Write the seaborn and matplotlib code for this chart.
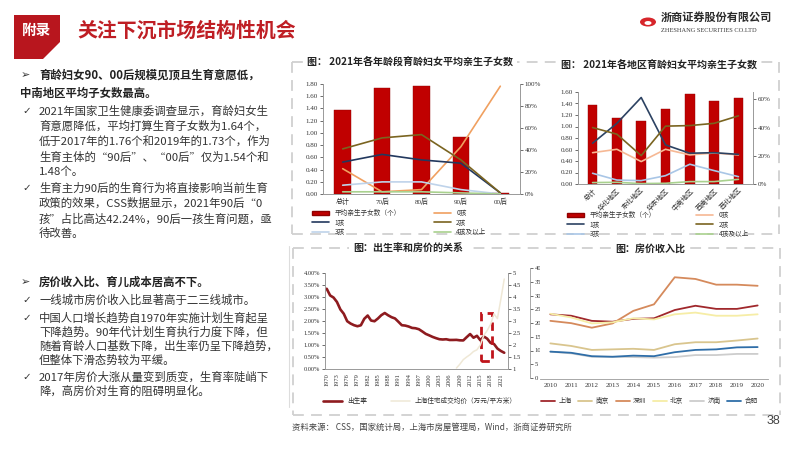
import numpy as np
import pandas as pd
import matplotlib
matplotlib.use("Agg")
import matplotlib.pyplot as plt
import seaborn as sns
from matplotlib.lines import Line2D
from matplotlib.patches import Polygon, Circle, Rectangle, Patch
from matplotlib.ticker import FuncFormatter

# ---------------- data ----------------
age_groups = ["总计", "70后", "80后", "90后", "00后"]
age_avg_children = [1.37, 1.74, 1.76, 0.94, 0.02]
age_kid0 = [0.23, 0.02, 0.04, 0.43, 0.98]
age_kid1 = [0.29, 0.36, 0.31, 0.28, 0.01]
age_kid2 = [0.41, 0.51, 0.54, 0.31, 0.01]
age_kid3 = [0.08, 0.11, 0.11, 0.04, 0.00]
age_kid4 = [0.02, 0.02, 0.02, 0.01, 0.00]

regions = ["总计", "华北地区", "东北地区", "华东地区", "中南地区", "西南地区", "西北地区"]
region_avg_children = [1.37, 1.15, 1.10, 1.30, 1.56, 1.45, 1.50]
region_kid0 = [0.222, 0.246, 0.159, 0.246, 0.206, 0.220, 0.206]
region_kid1 = [0.289, 0.43, 0.613, 0.277, 0.218, 0.222, 0.210]
region_kid2 = [0.40, 0.353, 0.201, 0.41, 0.414, 0.43, 0.483]
region_kid3 = [0.076, 0.028, 0.024, 0.059, 0.14, 0.095, 0.052]
region_kid4 = [0.010, 0.012, 0.003, 0.005, 0.017, 0.017, 0.033]

birth_years = list(range(1970, 2023))
birth_rate = [3.343, 3.065, 2.977, 2.793, 2.482, 2.301, 1.991, 1.893, 1.825, 1.782,
              1.821, 2.091, 2.228, 2.019, 1.990, 2.104, 2.243, 2.333, 2.237, 2.158,
              2.106, 1.968, 1.824, 1.809, 1.770, 1.712, 1.698, 1.657, 1.564, 1.464,
              1.403, 1.338, 1.286, 1.241, 1.229, 1.240, 1.209, 1.210, 1.214, 1.195,
              1.190, 1.327, 1.457, 1.303, 1.383, 1.199, 1.357, 1.264, 1.086, 1.041,
              0.852, 0.752, 0.677]
price_years = list(range(2008, 2023))
sh_price = [1.04, 1.2, 1.39, 1.5, 1.6, 1.73, 1.8, 2.0, 2.4, 2.6, 2.86, 3.3, 3.1, 3.9, 4.75]

ratio_years = list(range(2010, 2021))
ratio_cities = ["上海", "南京", "深圳", "北京", "济南", "合肥"]
ratio_shanghai = [22.7, 22.2, 20.4, 20.1, 21.1, 21.3, 24.2, 25.7, 24.6, 24.6, 25.8]
ratio_nanjing = [12.5, 11.6, 10.2, 10.4, 10.6, 10.2, 12.2, 12.9, 12.9, 13.5, 14.2]
ratio_shenzhen = [20.4, 19.6, 18.0, 19.5, 23.9, 26.2, 35.7, 35.1, 33.1, 33.1, 32.7]
ratio_beijing = [22.9, 21.6, 19.5, 19.9, 21.3, 20.9, 22.7, 23.3, 22.2, 22.2, 22.7]
ratio_jinan = [9.6, 9.0, 7.8, 7.8, 7.7, 7.5, 7.7, 8.4, 8.4, 8.8, 8.8]
ratio_hefei = [9.6, 9.2, 8.0, 7.8, 8.2, 8.0, 9.4, 10.2, 10.4, 11.1, 11.2]

kid_labels = ["0孩", "1孩", "2孩", "3孩", "4孩及以上"]
kid_colors = ["#F0A060", "#22385E", "#7A6420", "#BFD3EA", "#A9D18E"]
kid_colors_region = ["#F6B894", "#2C4262", "#7A6420", "#A9C6E6", "#A9D18E"]
city_colors = ["#A0282C", "#D9C58E", "#D58A5C", "#F6EDA6", "#CDCDCD", "#2F6EA8"]

# ---------------- helpers ----------------
W, H = 799, 450
CJK = ["Noto Sans CJK SC", "DejaVu Sans"]
SERIF = ["Liberation Serif", "Noto Sans CJK SC"]
TXT = "#333333"
RED = "#B8161E"


def fx(x):
    return x / W


def fy(y):
    return 1 - y / H


def box(l, t, r, b):
    return [l / W, 1 - b / H, (r - l) / W, (b - t) / H]


sns.set_theme(style="white")
plt.rcParams["font.family"] = SERIF
plt.rcParams["axes.unicode_minus"] = False

fig = plt.figure(figsize=(7.99, 4.5), dpi=100)
fig.patch.set_facecolor("white")


def dash(x0, y0, x1, y1):
    fig.add_artist(Line2D([fx(x0), fx(x1)], [fy(y0), fy(y1)], transform=fig.transFigure,
                          color="#D0D0D0", lw=1.3, ls=(0, (6, 4)), zorder=1))


def style_axis(ax, fs=5):
    for s in ax.spines.values():
        s.set_color("#9A9A9A")
        s.set_linewidth(0.6)
    ax.tick_params(axis="both", labelsize=fs, colors=TXT, length=2, width=0.5, pad=1.5,
                   direction="out")
    ax.grid(False)
    ax.set_xlabel("")
    ax.set_ylabel("")


# ---------------- header ----------------
fig.add_artist(Polygon([[fx(14), fy(15)], [fx(60), fy(15)], [fx(60), fy(42)], [fx(43), fy(59)],
                        [fx(14), fy(59)]], closed=True, transform=fig.transFigure,
                       facecolor=RED, edgecolor="none"))
fig.text(fx(37), fy(30), "附录", color="white", fontsize=10.5, fontweight="bold",
         family=CJK, ha="center", va="center")
fig.text(fx(77), fy(30), "关注下沉市场结构性机会", color="#BF1E24", fontsize=14.3,
         fontweight="bold", family=CJK, ha="left", va="center")

fig.add_artist(Circle((fx(648), fy(22)), 8 / W, transform=fig.transFigure,
                      facecolor="#D7262B", edgecolor="none"))
fig.add_artist(Circle((fx(648), fy(23)), 3.5 / W, transform=fig.transFigure,
                      facecolor="white", edgecolor="none"))
fig.text(fx(661), fy(17), "浙商证券股份有限公司", color="#2A2A2A", fontsize=8,
         fontweight="bold", family=CJK, ha="left", va="center")
fig.text(fx(661), fy(31), "ZHESHANG SECURITIES CO.LTD", color="#3A3A3A", fontsize=4.6,
         family=["Liberation Serif"], ha="left", va="center")

# ---------------- left text ----------------
FS = 8.2
fig.text(fx(21), fy(75), "➢", fontsize=8, color=TXT, family=CJK, ha="left", va="center")
fig.text(fx(39), fy(75), "育龄妇女90、00后规模见顶且生育意愿低，", fontsize=FS,
         fontweight="bold", color="#222222", family=CJK, ha="left", va="center")
fig.text(fx(20), fy(93), "中南地区平均子女数最高。", fontsize=FS, fontweight="bold",
         color="#222222", family=CJK, ha="left", va="center")
block1 = ["2021年国家卫生健康委调查显示，育龄妇女生",
          "育意愿降低，平均打算生育子女数为1.64个，",
          "低于2017年的1.76个和2019年的1.73个，作为",
          "生育主体的“90后”、“00后”仅为1.54个和",
          "1.48个。"]
block2 = ["生育主力90后的生育行为将直接影响当前生育",
          "政策的效果，CSS数据显示，2021年90后“0",
          "孩”占比高达42.24%，90后一孩生育问题，亟",
          "待改善。"]
for i, line in enumerate(block1):
    fig.text(fx(39), fy(111 + i * 15.3), line, fontsize=FS, color=TXT, family=CJK,
             ha="left", va="center")
for i, line in enumerate(block2):
    fig.text(fx(39), fy(188 + i * 15.3), line, fontsize=FS, color=TXT, family=CJK,
             ha="left", va="center")
for yy in (111, 188):
    fig.text(fx(22), fy(yy), "✓", fontsize=7.5, color=TXT, family=["DejaVu Sans"],
             ha="left", va="center")

fig.text(fx(21), fy(282), "➢", fontsize=8, color=TXT, family=CJK, ha="left", va="center")
fig.text(fx(39), fy(282), "房价收入比、育儿成本居高不下。", fontsize=FS, fontweight="bold",
         color="#222222", family=CJK, ha="left", va="center")
block3 = [(300, "一线城市房价收入比显著高于二三线城市。", True),
          (318, "中国人口增长趋势自1970年实施计划生育起呈", True),
          (332, "下降趋势。90年代计划生育执行力度下降，但", False),
          (346, "随着育龄人口基数下降，出生率仍呈下降趋势，", False),
          (360, "但整体下滑态势较为平缓。", False),
          (377, "2017年房价大涨从量变到质变，生育率陡峭下", True),
          (391, "降，高房价对生育的阻碍明显化。", False)]
for yy, line, chk in block3:
    fig.text(fx(39), fy(yy), line, fontsize=FS, color=TXT, family=CJK, ha="left", va="center")
    if chk:
        fig.text(fx(22), fy(yy), "✓", fontsize=7.5, color=TXT, family=["DejaVu Sans"],
                 ha="left", va="center")

fig.add_artist(Line2D([fx(288.5), fx(288.5)], [fy(246), fy(407)], transform=fig.transFigure,
                      color="#DDDDDD", lw=0.8))

# ---------------- dashed frames ----------------
dash(292, 62, 779, 62)
dash(292, 62, 292, 234)
dash(779, 62, 779, 234)
dash(292, 234, 779, 234)
dash(293, 248, 780, 248)
dash(293, 248, 293, 415)
dash(780, 248, 780, 415)
dash(293, 415, 780, 415)

title_kw = dict(fontsize=7.2, fontweight="bold", color="#222222", family=CJK, ha="center",
                va="center", bbox=dict(facecolor="white", edgecolor="none", pad=3))
fig.text(fx(410), fy(62), "图： 2021年各年龄段育龄妇女平均亲生子女数", **title_kw)
fig.text(fx(659), fy(65), "图： 2021年各地区育龄妇女平均亲生子女数", **title_kw)
fig.text(fx(408), fy(249), "图：出生率和房价的关系", **title_kw)
fig.text(fx(650), fy(249), "图：房价收入比", **title_kw)

# ---------------- chart 1: by age group ----------------
ax1 = fig.add_axes(box(323, 84, 520, 194))
sns.barplot(x=age_groups, y=age_avg_children, color="#C00000", saturation=1, width=0.42,
            edgecolor="#900000", linewidth=0.3, ax=ax1)
ax1.set_xlim(-0.5, 4.5)
ax1.set_ylim(0, 1.8)
ax1.set_yticks(np.arange(0, 1.81, 0.2))
ax1.yaxis.set_major_formatter(FuncFormatter(lambda v, p: f"{v:.2f}"))
style_axis(ax1)
ax1.tick_params(axis="x", length=0, pad=3)
ax1b = ax1.twinx()
for vals, col in zip([age_kid0, age_kid1, age_kid2, age_kid3, age_kid4], kid_colors):
    sns.lineplot(x=np.arange(len(age_groups)), y=vals, color=col, lw=1.2, ax=ax1b)
ax1b.set_ylim(0, 1.0)
ax1b.set_yticks(np.arange(0, 1.01, 0.2))
ax1b.yaxis.set_major_formatter(FuncFormatter(lambda v, p: f"{v:.0%}"))
style_axis(ax1b)
ax1b.spines["top"].set_visible(False)
ax1.spines["top"].set_visible(False)

h1 = [Patch(facecolor="#C00000", edgecolor="#900000")] + \
     [Line2D([], [], color=c, lw=1.2) for c in kid_colors]
l1 = ["平均亲生子女数（个）"] + kid_labels
order = [0, 2, 4, 1, 3, 5]
fig.legend([h1[i] for i in order], [l1[i] for i in order], loc="upper left",
           bbox_to_anchor=(fx(312), fy(209)), ncol=2, frameon=False,
           prop={"family": CJK, "size": 4.8}, handlelength=2.6, handleheight=0.6,
           labelspacing=0.25, columnspacing=4.9, borderaxespad=0, borderpad=0,
           labelcolor=TXT)

# ---------------- chart 2: by region ----------------
ax2 = fig.add_axes(box(578, 92, 753, 184))
sns.barplot(x=regions, y=region_avg_children, color="#C00000", saturation=1, width=0.4,
            edgecolor="#900000", linewidth=0.3, ax=ax2)
ax2.set_xlim(-0.6, 6.6)
ax2.set_ylim(0, 1.6)
ax2.set_yticks(np.arange(0, 1.61, 0.2))
ax2.yaxis.set_major_formatter(FuncFormatter(lambda v, p: f"{v:.2f}"))
style_axis(ax2)
ax2.tick_params(axis="x", length=0, pad=2)
for lab in ax2.get_xticklabels():
    lab.set_rotation(45)
    lab.set_ha("right")
    lab.set_rotation_mode("anchor")
ax2b = ax2.twinx()
for vals, col in zip([region_kid0, region_kid1, region_kid2, region_kid3, region_kid4],
                     kid_colors_region):
    sns.lineplot(x=np.arange(len(regions)), y=vals, color=col, lw=1.2, ax=ax2b)
ax2b.set_ylim(0, 0.652)
ax2b.set_yticks(np.arange(0, 0.61, 0.2))
ax2b.yaxis.set_major_formatter(FuncFormatter(lambda v, p: f"{v:.0%}"))
style_axis(ax2b)
ax2.spines["top"].set_visible(False)
ax2b.spines["top"].set_visible(False)

h2 = [Patch(facecolor="#C00000", edgecolor="#900000")] + \
     [Line2D([], [], color=c, lw=1.2) for c in kid_colors_region]
fig.legend([h2[i] for i in order], [l1[i] for i in order], loc="upper left",
           bbox_to_anchor=(fx(567), fy(211)), ncol=2, frameon=False,
           prop={"family": CJK, "size": 4.8}, handlelength=2.6, handleheight=0.6,
           labelspacing=0.25, columnspacing=6.0, borderaxespad=0, borderpad=0,
           labelcolor=TXT)

# ---------------- chart 3: birth rate vs house price ----------------
ax3 = fig.add_axes(box(325, 273, 508, 369))
sns.lineplot(x=birth_years, y=birth_rate, color="#8E1B1F", lw=1.9, ax=ax3)
ax3.set_xlim(1969.5, 2023.1)
ax3.set_ylim(0, 4.0)
ax3.set_yticks(np.arange(0, 4.01, 0.5))
ax3.yaxis.set_major_formatter(FuncFormatter(lambda v, p: f"{v:.2f}%"))
ax3.set_xticks(list(range(1970, 2022, 3)))
style_axis(ax3, fs=4.6)
ax3.tick_params(axis="x", rotation=90, pad=1)
ax3.spines["top"].set_visible(False)
ax3.add_patch(Rectangle((2015.2, 0.33), 3.3, 2.0, fill=False, edgecolor="#C0141B", lw=2,
                        ls=(0, (3, 2)), clip_on=False, zorder=5))
ax3b = ax3.twinx()
sns.lineplot(x=price_years, y=sh_price, color="#EFE8D6", lw=1.1, ax=ax3b)
ax3b.set_ylim(1, 5)
ax3b.set_yticks(np.arange(1, 5.01, 0.5))
ax3b.yaxis.set_major_formatter(FuncFormatter(lambda v, p: f"{v:g}"))
style_axis(ax3b, fs=4.8)
ax3b.spines["top"].set_visible(False)

ax3c = fig.add_axes(box(325, 268, 530, 378))
ax3c.patch.set_alpha(0)
for s in ["left", "top", "bottom"]:
    ax3c.spines[s].set_visible(False)
ax3c.set_ylim(0, 40)
ax3c.set_yticks(np.arange(0, 41, 5))
ax3c.set_xticks([])
ax3c.yaxis.tick_right()
style_axis(ax3c, fs=4.8)

fig.legend([Line2D([], [], color="#8E1B1F", lw=1.9), Line2D([], [], color="#EFE8D6", lw=1.1)],
           ["出生率", "上海住宅成交均价（万元/平方米）"], loc="center left",
           bbox_to_anchor=(fx(323), fy(401)), ncol=2, frameon=False,
           prop={"family": CJK, "size": 4.8}, handlelength=2.8, columnspacing=3.6,
           borderaxespad=0, borderpad=0, labelcolor=TXT)

# ---------------- chart 4: price-to-income ratio ----------------
ratio_df = pd.DataFrame({"year": ratio_years, "上海": ratio_shanghai, "南京": ratio_nanjing,
                         "深圳": ratio_shenzhen, "北京": ratio_beijing, "济南": ratio_jinan,
                         "合肥": ratio_hefei})
ratio_long = ratio_df.melt(id_vars="year", var_name="city", value_name="ratio")
ax4 = fig.add_axes(box(540, 265, 768, 379))
sns.lineplot(data=ratio_long, x="year", y="ratio", hue="city", hue_order=ratio_cities,
             palette=dict(zip(ratio_cities, city_colors)), lw=1.3, legend=False, ax=ax4)
ax4.set_xlim(2009.52, 2020.48)
ax4.set_ylim(0, 40)
ax4.set_xticks(ratio_years)
ax4.set_xticks(np.arange(2009.5, 2020.6, 1), minor=True)
style_axis(ax4)
ax4.tick_params(axis="x", which="major", length=0, pad=3)
ax4.tick_params(axis="x", which="minor", length=2, width=0.5, color="#9A9A9A")
ax4.set_yticks([])
for s in ["left", "top", "right"]:
    ax4.spines[s].set_visible(False)

fig.legend([Line2D([], [], color=c, lw=1.3) for c in city_colors], ratio_cities,
           loc="center left", bbox_to_anchor=(fx(541), fy(401)), ncol=6, frameon=False,
           prop={"family": CJK, "size": 4.8}, handlelength=2.1, columnspacing=1.0,
           handletextpad=0.5, borderaxespad=0, borderpad=0, labelcolor=TXT)

# ---------------- footer ----------------
fig.text(fx(292), fy(427), "资料来源： CSS，国家统计局，上海市房屋管理局，Wind，浙商证券研究所",
         fontsize=6, color="#444444", family=CJK, ha="left", va="center")
fig.text(fx(773), fy(421), "38", fontsize=9, color="#444444", family=["Liberation Sans"],
         ha="center", va="center")

fig.savefig("out.png", dpi=100)
